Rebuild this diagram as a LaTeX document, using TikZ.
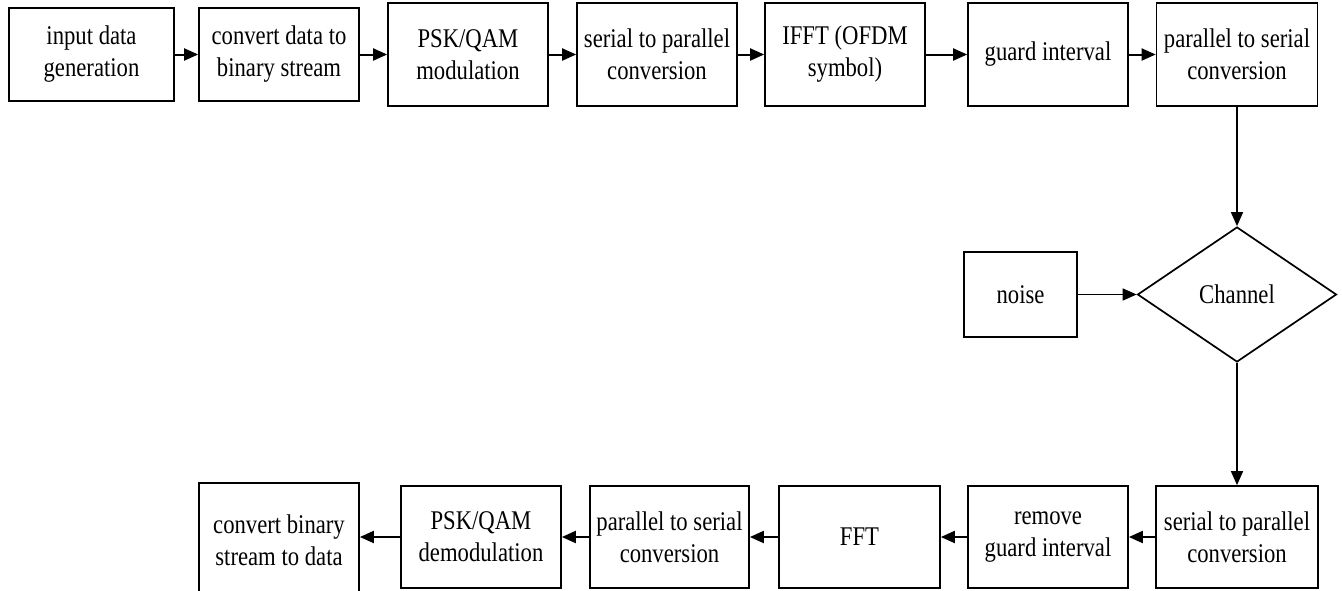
\documentclass[tikz,border=0pt]{standalone}
\usepackage{fontspec}
\setmainfont[FakeStretch=0.84]{Liberation Serif}
\usetikzlibrary{arrows.meta,shapes.geometric}
\begin{document}
\begin{tikzpicture}[x=1pt,y=-1pt,
  blk/.style={draw,line width=1.7pt,rectangle,inner sep=0pt,align=center,
    font=\fontsize{27}{32}\selectfont},
  chan/.style={draw,line width=1.7pt,diamond,inner sep=0pt,
    minimum width=199pt,minimum height=135pt,font=\fontsize{27}{32}\selectfont},
  arr/.style={line width=2pt,-{Triangle[length=14pt,width=12pt]}}]
\useasboundingbox (0,0) rectangle (1342,590);
% top row
\node[blk,minimum width=165pt,minimum height=93pt] (b1) at (91.5,54.5) {input data\\generation};
\node[blk,minimum width=160pt,minimum height=93pt] (b2) at (279,54.5) {convert data to\\binary stream};
\node[blk,minimum width=160pt,minimum height=103pt] (b3) at (468,54.5) {PSK/QAM\\modulation};
\node[blk,minimum width=160pt,minimum height=103pt] (b4) at (657,54.5) {serial to parallel\\conversion};
\node[blk,minimum width=160pt,minimum height=103pt] (b5) at (845,54.5) {IFFT (OFDM\\symbol)};
\node[blk,minimum width=160pt,minimum height=103pt] (b6) at (1048,54.5) {guard interval};
\node[blk,minimum width=161pt,minimum height=103pt] (b7) at (1237,54.5) {parallel to serial\\conversion};
% channel
\node[chan] (ch) at (1237,294.5) {Channel};
\node[blk,minimum width=113pt,minimum height=85pt] (nz) at (1020.5,294.5) {noise};
% bottom row
\node[blk,minimum width=160pt,minimum height=114pt] (c1) at (279,540) {convert binary\\stream to data};
\node[blk,minimum width=160pt,minimum height=102pt] (c2) at (481,537) {PSK/QAM\\demodulation};
\node[blk,minimum width=159pt,minimum height=102pt] (c3) at (669.5,537) {parallel to serial\\conversion};
\node[blk,minimum width=161pt,minimum height=102pt] (c4) at (859.5,537) {FFT};
\node[blk,minimum width=160pt,minimum height=102pt] (c5) at (1048,537) {remove\\guard interval};
\node[blk,minimum width=162pt,minimum height=102pt] (c6) at (1237,537) {serial to parallel\\conversion};
% connectors
\draw[arr] (b1) -- (b2);
\draw[arr] (b2) -- (b3);
\draw[arr] (b3) -- (b4);
\draw[arr] (b4) -- (b5);
\draw[arr] (b5) -- (b6);
\draw[arr] (b6) -- (b7);
\draw[arr,line width=1.6pt] (b7) -- (ch);
\draw[arr,line width=1.6pt] (nz) -- (ch);
\draw[arr,line width=1.6pt] (ch) -- (c6);
\draw[arr] (c6) -- (c5);
\draw[arr] (c5) -- (c4);
\draw[arr] (c4) -- (c3);
\draw[arr] (c3) -- (c2);
\draw[arr] (c2.west) -- (c2.west -| c1.east);
\end{tikzpicture}
\end{document}
